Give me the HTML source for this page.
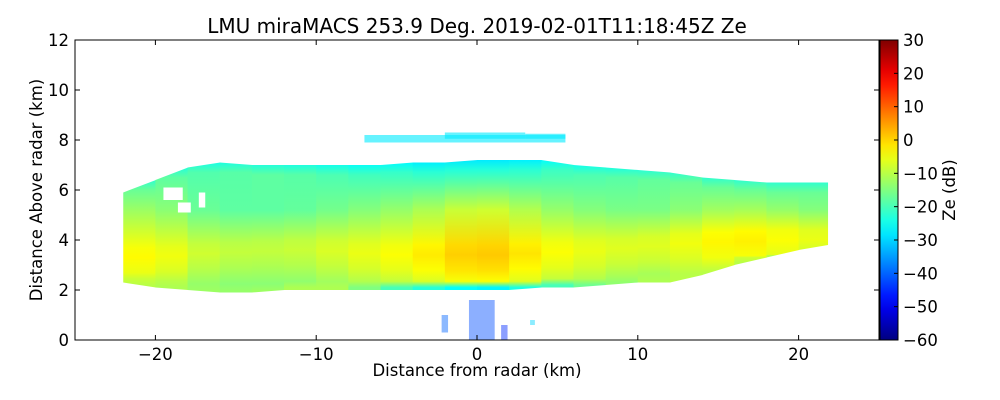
<!DOCTYPE html>
<html><head><meta charset="utf-8">
<style>
body{margin:0;background:#fff;}
svg{display:block;font-family:"DejaVu Sans","Liberation Sans",sans-serif;}
</style></head>
<body>
<svg id="chart" width="1000" height="400" viewBox="0 0 1000 400">
<defs id="defs"></defs>
<rect width="1000" height="400" fill="#fff"/>
<text x="477" y="33" font-size="20" text-anchor="middle">LMU miraMACS 253.9 Deg. 2019-02-01T11:18:45Z  Ze</text>
<g id="plot"></g>
<g id="axes"></g>
<g id="cbar"></g>
</svg>
<script>
const colX    = [-22,-20,-18,-16,-14,-12,-10,-8,-6,-4,-2,0,2,4,6,8,10,12,14,16,18,20,21.8];
const colTop  = [5.9,6.4,6.9,7.1,7.0,7.0,7.0,7.0,7.0,7.1,7.1,7.2,7.2,7.2,7.0,6.9,6.8,6.7,6.5,6.4,6.3,6.3,6.3];
const colBase = [2.3,2.1,2.0,1.9,1.9,2.0,2.0,2.0,2.0,2.0,2.0,2.0,2.0,2.1,2.1,2.2,2.3,2.3,2.6,3.0,3.3,3.6,3.8];
const colCore = [-4,-3,-7,-9,-9,-9,-8,-6,-5,-3,-1,2,0,-3,-5,-6,-7,-6,-4,-2,-3,-5,-6];
const colCoreH= [3.3,3.3,3.4,3.5,3.5,3.6,3.6,3.5,3.4,3.4,3.4,3.4,3.4,3.5,3.5,3.6,3.7,3.8,3.9,3.9,4.0,4.0,4.0];
const colTopZe= [-22,-22,-24,-24,-23,-23,-24,-25,-26,-27,-28,-28,-28,-27,-25,-24,-23,-22,-22,-22,-22,-22,-22];
const colBaseZe=[-10,-10,-12,-13,-13,-12,-10,-12,-18,-22,-24,-28,-26,-22,-18,-15,-12,-10,-10,-10,-10,-10,-10];
const xTicks = [-20,-10,0,10,20];
const yTicks = [0,2,4,6,8,10,12];
const cbTicks = [30,20,10,0,-10,-20,-30,-40,-50,-60];

const NS="http://www.w3.org/2000/svg";
const X0=75,X1=879,Y0=340,Y1=40;
const FS=16.5;
const xs=v=>X0+(v+25)/50*(X1-X0);
const ys=v=>Y0-v/12*(Y0-Y1);
const zMin=-60,zMax=30;
function jet(z){let t=(z-zMin)/(zMax-zMin);t=Math.max(0,Math.min(1,t));
 const f=v=>Math.round(255*Math.max(0,Math.min(1,v)));
 const r=1.5-Math.abs(4*t-3),g=1.5-Math.abs(4*t-2),b=1.5-Math.abs(4*t-1);
 return `rgb(${f(r)},${f(g)},${f(b)})`;}
function el(tag,attrs,parent){const e=document.createElementNS(NS,tag);for(const k in attrs)e.setAttribute(k,attrs[k]);parent.appendChild(e);return e;}
const defs=document.getElementById('defs'),plot=document.getElementById('plot'),axes=document.getElementById('axes'),cbar=document.getElementById('cbar');

for(let i=0;i<colX.length-1;i++){
 const top=Math.max(colTop[i],colTop[i+1]),base=Math.min(colBase[i],colBase[i+1]);
 const g=el('linearGradient',{id:'g'+i,x1:0,y1:0,x2:0,y2:1,gradientUnits:'userSpaceOnUse'},defs);
 g.setAttribute('y1',ys(top));g.setAttribute('y2',ys(base));
 const cz=(colCore[i]+colCore[i+1])/2;
 const ch=(colCoreH[i]+colCoreH[i+1])/2, bz=(colBaseZe[i]+colBaseZe[i+1])/2, tz=(colTopZe[i]+colTopZe[i+1])/2;
 const stops=[[top,tz],[top-0.4,tz+5],[5.2,cz-9],[ch+0.4,cz-1],[ch,cz],[ch-0.6,cz-2],[base+0.35,cz-5],[base+0.1,bz]];
 stops.forEach(s=>{let o=(top-s[0])/(top-base);o=Math.max(0,Math.min(1,o));el('stop',{offset:o,'stop-color':jet(s[1])},g);});
 const p=el('polygon',{points:`${xs(colX[i])},${ys(colTop[i])} ${xs(colX[i+1])+0.5},${ys(colTop[i+1])} ${xs(colX[i+1])+0.5},${ys(colBase[i+1])} ${xs(colX[i])},${ys(colBase[i])}`,fill:`url(#g${i})`},plot);
 
 
}
[[-19.5,5.6,1.2,0.5],[-18.6,5.1,0.8,0.4],[-17.3,5.3,0.4,0.6]].forEach(h=>{
 const r=el('rect',{x:xs(h[0]),y:ys(h[1]+h[3]),width:h[2]*16.08,height:h[3]*25,fill:'#fff'},plot);
 });
[[-7,7.9,12.5,0.3],[-2,8.05,5,0.25],[3,8.05,2.5,0.2]].forEach(h=>{
 const r=el('rect',{x:xs(h[0]),y:ys(h[1]+h[3]),width:h[2]*16.08,height:h[3]*25,fill:jet(-28),opacity:0.6},plot);
 });
[[-0.5,0,1.6,1.6,-42],[-2.2,0.3,0.4,0.7,-40],[1.5,0,0.4,0.6,-45],[3.3,0.6,0.3,0.2,-30]].forEach(h=>{
 const r=el('rect',{x:xs(h[0]),y:ys(h[1]+h[3]),width:h[2]*16.08,height:h[3]*25,fill:jet(h[4]),opacity:0.45},plot);
 });

el('rect',{x:X0,y:Y1,width:X1-X0,height:Y0-Y1,fill:'none',stroke:'#000','stroke-width':1},axes);
xTicks.forEach(t=>{const x=xs(t);
 el('line',{x1:x,x2:x,y1:Y0,y2:Y0-5,stroke:'#000'},axes);el('line',{x1:x,x2:x,y1:Y1,y2:Y1+5,stroke:'#000'},axes);
 const tx=el('text',{x:x,y:Y0+20,'font-size':FS,'text-anchor':'middle'},axes);tx.textContent=(t<0?'\u2212':'')+Math.abs(t);
 });
yTicks.forEach(t=>{const y=ys(t);
 el('line',{x1:X0,x2:X0+5,y1:y,y2:y,stroke:'#000'},axes);el('line',{x1:X1,x2:X1-5,y1:y,y2:y,stroke:'#000'},axes);
 const tx=el('text',{x:X0-6,y:y+6,'font-size':FS,'text-anchor':'end'},axes);tx.textContent=t;
 });
let t=el('text',{x:477,y:376,'font-size':FS,'text-anchor':'middle'},axes);t.textContent='Distance from radar (km)';

t=el('text',{x:0,y:0,'font-size':FS,'text-anchor':'middle',transform:'translate(42,190) rotate(-90)'},axes);t.textContent='Distance Above radar  (km)';


const CB0=880,CB1=898;
const cg=el('linearGradient',{id:'cbg',x1:0,y1:1,x2:0,y2:0},defs);
for(let k=0;k<=20;k++){el('stop',{offset:k/20,'stop-color':jet(zMin+k/20*(zMax-zMin))},cg);}
el('rect',{x:CB0,y:Y1,width:CB1-CB0,height:Y0-Y1,fill:'url(#cbg)',stroke:'#000'},cbar);
cbTicks.forEach(v=>{const y=Y0-(v-zMin)/(zMax-zMin)*(Y0-Y1);
 el('line',{x1:CB1-4,x2:CB1,y1:y,y2:y,stroke:'#000'},cbar);
 const tx=el('text',{x:903,y:y+6,'font-size':FS},cbar);tx.textContent=(v<0?'\u2212':'')+Math.abs(v);
 });
t=el('text',{x:0,y:0,'font-size':FS,'text-anchor':'middle',transform:'translate(955,190) rotate(-90)'},cbar);t.textContent='Ze (dB)';

</script>
</body></html>
